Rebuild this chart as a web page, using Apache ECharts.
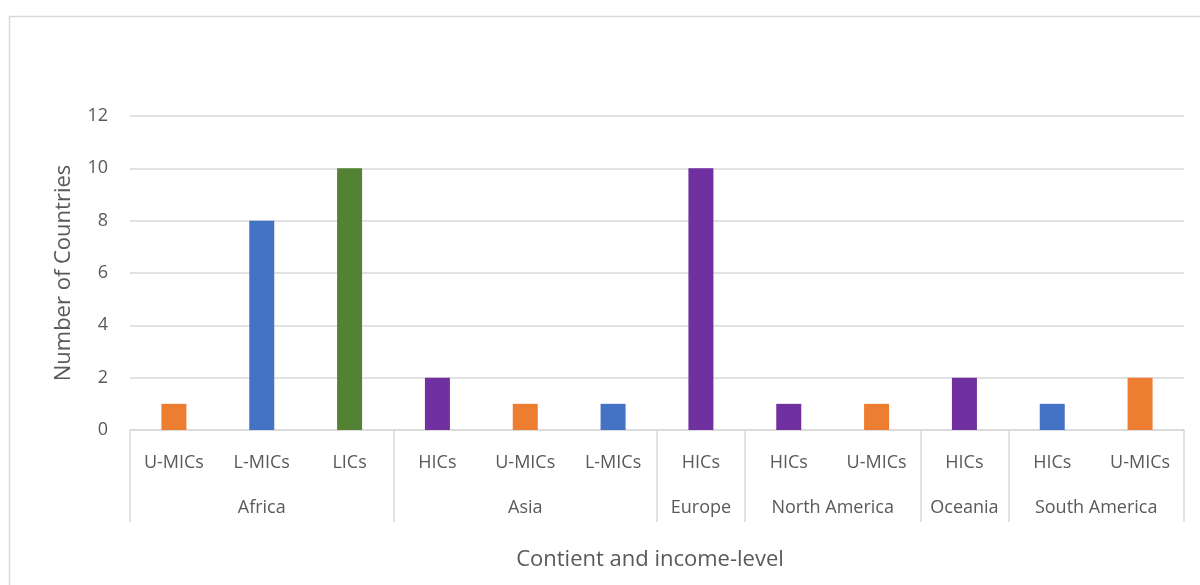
<!DOCTYPE html>
<html><head><meta charset="utf-8">
<script src="https://cdn.jsdelivr.net/npm/echarts@6/dist/echarts.min.js"></script>
<style>html,body{margin:0;padding:0;background:#fff}#c{width:1200px;height:585px}</style>
</head><body><div id="c"></div>
<script>
const incomeLevels = ['U-MICs','L-MICs','LICs','HICs','U-MICs','L-MICs','HICs','HICs','U-MICs','HICs','HICs','U-MICs'];
const continents = ['Africa','Africa','Africa','Asia','Asia','Asia','Europe','North America','North America','Oceania','South America','South America'];
const counts = [1,8,10,2,1,1,10,1,1,2,1,2];
const barColors = ['#ED7D31','#4472C4','#548235','#7030A0','#ED7D31','#4472C4','#7030A0','#7030A0','#ED7D31','#7030A0','#4472C4','#ED7D31'];
const yTicks = [0,2,4,6,8,10,12];

// derive continent spans
const spans = [];
continents.forEach((c,i)=>{
  if(!spans.length || spans[spans.length-1].name!==c) spans.push({name:c,start:i,end:i+1});
  else spans[spans.length-1].end = i+1;
});
const boundaries = [0].concat(spans.map(s=>s.end));
const centers = spans.map(s=>(s.start+s.end)/2);

const FONT = 'Open Sans';
const TXT = '#595959';
const chart = echarts.init(document.getElementById('c'));
chart.setOption({
  animation:false,
  textStyle:{fontFamily:FONT},
  graphic:[{type:'rect',shape:{x:9.5,y:16.5,width:1400,height:800},style:{fill:'none',stroke:'#d9d9d9',lineWidth:1.5},silent:true}],
  grid:{left:130,right:16,top:116,bottom:155},
  xAxis:[{
    type:'category',
    data:incomeLevels.map((l,i)=>i),
    axisLine:{lineStyle:{color:'#d9d9d9',width:1.5}},
    axisTick:{show:false},
    axisLabel:{color:TXT,fontSize:18,margin:24,fontFamily:FONT,interval:0,formatter:(v)=>incomeLevels[+v]}
  },{
    type:'value',min:0,max:incomeLevels.length,position:'bottom',
    axisLine:{show:false},
    splitLine:{show:false},
    axisTick:{show:true,length:92,customValues:boundaries,lineStyle:{color:'#d9d9d9',width:1.5}},
    axisLabel:{customValues:centers,color:TXT,fontSize:18,margin:69,fontFamily:FONT,
      formatter:(v)=>{const k=centers.indexOf(v);return k>=0?spans[k].name:'';}},
    name:'Contient and income-level',nameLocation:'middle',nameGap:119,
    nameTextStyle:{color:TXT,fontSize:22,fontFamily:FONT,padding:[0,14,0,0]}
  }],
  yAxis:{
    type:'value',min:yTicks[0],max:yTicks[yTicks.length-1],interval:2,
    axisLine:{show:false},axisTick:{show:false},
    splitLine:{lineStyle:{color:'#d9d9d9',width:1.5}},
    axisLabel:{color:TXT,fontSize:18,margin:22,fontFamily:FONT},
    name:'Number of Countries',nameLocation:'middle',nameGap:55,
    nameTextStyle:{color:TXT,fontSize:22,fontFamily:FONT}
  },
  series:[{
    type:'bar',xAxisIndex:0,barWidth:25,
    data:counts.map((v,i)=>({value:v,itemStyle:{color:barColors[i]}}))
  }]
});
</script></body></html>
